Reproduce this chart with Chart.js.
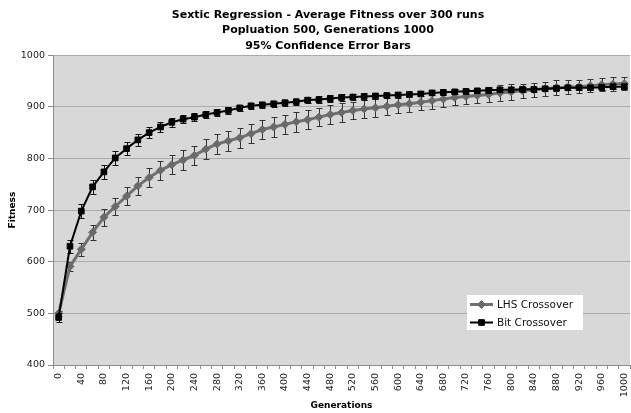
<!DOCTYPE html>
<html>
<head>
<meta charset="utf-8">
<script src="https://cdn.jsdelivr.net/npm/chart.js@4.4.0/dist/chart.umd.min.js"></script>
<style>
  body { margin: 0; background: #fff; }
  canvas { display: block; }
</style>
</head>
<body>
<canvas id="fitnessChart" width="631" height="413"></canvas>
<script>
// data
const generations = [0, 20, 40, 60, 80, 100, 120, 140, 160, 180, 200, 220, 240, 260, 280, 300, 320, 340, 360, 380,
    400, 420, 440, 460, 480, 500, 520, 540, 560, 580, 600, 620, 640, 660, 680, 700, 720, 740, 760, 780,
    800, 820, 840, 860, 880, 900, 920, 940, 960, 980, 1000];

const lhs_fitness = [500, 591, 624, 657, 686, 707, 727, 747, 763, 777, 788, 797, 806, 818, 828, 834, 840, 848, 856, 861,
    866, 871, 875, 880, 885, 889, 893, 896, 898, 901, 904, 906, 909, 912, 915, 918, 920, 922, 924, 927,
    929, 931, 933, 935, 937, 938, 939, 941, 943, 944, 945];
const lhs_error = [5, 9, 12, 15, 16, 17, 18, 18, 19, 19, 19, 19, 19, 19, 19, 19, 19, 19, 19, 19,
    19, 19, 18, 18, 18, 18, 17, 17, 17, 17, 16, 16, 16, 16, 15, 15, 15, 15, 15, 15,
    15, 14, 14, 14, 14, 14, 13, 13, 13, 13, 13];

const bit_fitness = [492, 630, 698, 745, 774, 801, 819, 836, 850, 861, 870, 876, 880, 885, 889, 893, 898, 902, 904, 906,
    908, 910, 913, 914, 916, 918, 919, 920, 921, 922, 923, 924, 925, 927, 928, 929, 930, 931, 932, 933,
    933, 934, 934, 935, 936, 937, 937, 937, 938, 939, 939];
const bit_error = [8, 13, 14, 14, 13, 13, 12, 12, 11, 10, 9, 8, 8, 7, 7, 6, 6, 6, 6, 6,
    6, 6, 6, 6, 6, 6, 6, 6, 5, 5, 5, 5, 5, 5, 5, 5, 5, 5, 5, 5,
    5, 5, 5, 5, 5, 5, 5, 5, 5, 5, 5];

const FONT = 'DejaVu Sans';

// gray plot area like the spreadsheet
const plotBg = {
    id: 'plotBg',
    afterLayout(chart) {
        // the original title sits a little right of the canvas centre
        if (chart.titleBlock) chart.titleBlock.left = 26;
    },
    beforeDraw(chart) {
        const {ctx, chartArea: a} = chart;
        ctx.save();
        ctx.fillStyle = '#d8d8d8';
        ctx.fillRect(a.left, a.top, a.right - a.left, a.bottom - a.top);
        ctx.restore();
    }
};

// 95% error bars, drawn just under each dataset's own line
const errorBars = {
    id: 'errorBars',
    beforeDatasetDraw(chart, args) {
        const ds = chart.data.datasets[args.index];
        if (!ds.errors) return;
        const ctx = chart.ctx;
        const yScale = chart.scales.y;
        ctx.save();
        ctx.strokeStyle = ds.errorColor;
        ctx.lineWidth = 1;
        args.meta.data.forEach((pt, i) => {
            const v = ds.data[i];
            const top = Math.round(yScale.getPixelForValue(v + ds.errors[i])) + 0.5;
            const bot = Math.round(yScale.getPixelForValue(v - ds.errors[i])) + 0.5;
            const x = Math.round(pt.x) + 0.5;
            ctx.beginPath();
            ctx.moveTo(x, top); ctx.lineTo(x, bot);
            ctx.moveTo(x - 3, top); ctx.lineTo(x + 3, top);
            ctx.moveTo(x - 3, bot); ctx.lineTo(x + 3, bot);
            ctx.stroke();
        });
        ctx.restore();
    }
};

// legend box inside the plot, bottom right
const legendBox = {
    id: 'legendBox',
    afterDraw(chart) {
        const ctx = chart.ctx;
        const a = chart.chartArea;
        const x0 = a.right - 163;
        const y0 = a.bottom - 70;
        ctx.save();
        ctx.fillStyle = '#ffffff';
        ctx.fillRect(x0, y0, 116, 35);
        chart.data.datasets.forEach((ds, i) => {
            const cy = y0 + 9.5 + i * 18;
            ctx.strokeStyle = ds.borderColor;
            ctx.lineWidth = ds.borderWidth;
            ctx.beginPath();
            ctx.moveTo(x0 + 3, cy);
            ctx.lineTo(x0 + 26, cy);
            ctx.stroke();
            ctx.fillStyle = ds.pointBackgroundColor;
            ctx.strokeStyle = ds.pointBorderColor;
            ctx.lineWidth = 1;
            Chart.helpers.drawPoint(ctx, {pointStyle: ds.pointStyle, radius: ds.pointRadius, rotation: 0, borderWidth: 1}, x0 + 14.5, cy);
            ctx.fillStyle = '#111';
            ctx.font = '10.5px "' + FONT + '"';
            ctx.textBaseline = 'middle';
            ctx.textAlign = 'left';
            ctx.fillText(ds.label, x0 + 30, cy + 0.5);
        });
        ctx.restore();
    }
};

const ctxFit = document.getElementById('fitnessChart').getContext('2d');
const fitnessChart = new Chart(ctxFit, {
    type: 'line',
    data: {
        labels: generations,
        datasets: [
            {
                label: 'LHS Crossover',
                data: lhs_fitness,
                errors: lhs_error,
                errorColor: '#333',
                borderColor: '#707070',
                borderWidth: 3,
                pointStyle: 'rectRot',
                pointRadius: 4,
                pointBorderWidth: 1,
                pointBackgroundColor: '#6a6a6a',
                pointBorderColor: '#6a6a6a',
                tension: 0,
                order: 2
            },
            {
                label: 'Bit Crossover',
                data: bit_fitness,
                errors: bit_error,
                errorColor: '#111',
                borderColor: '#000',
                borderWidth: 2,
                pointStyle: 'rect',
                pointRadius: 4,
                pointBorderWidth: 1,
                pointBackgroundColor: '#000',
                pointBorderColor: '#000',
                tension: 0,
                order: 1
            }
        ]
    },
    options: {
        responsive: false,
        animation: false,
        layout: {
            autoPadding: false,
            padding: {left: 0, right: 1, top: 0, bottom: 0}
        },
        plugins: {
            legend: {display: false},
            tooltip: {enabled: false},
            title: {
                display: true,
                text: ['Sextic Regression - Average Fitness over 300 runs',
                       'Popluation 500, Generations 1000',
                       '95% Confidence Error Bars'],
                color: '#000',
                font: {family: FONT, size: 11, weight: 'bold', lineHeight: 1.43},
                padding: {top: 7, bottom: 1}
            }
        },
        scales: {
            x: {
                type: 'category',
                offset: true,
                grid: {
                    offset: true,
                    drawOnChartArea: false,
                    drawTicks: true,
                    tickLength: 4,
                    color: '#8c8c8c'
                },
                border: {color: '#8c8c8c'},
                ticks: {
                    autoSkip: false,
                    minRotation: 90,
                    maxRotation: 90,
                    padding: 4,
                    color: '#222',
                    font: {family: FONT, size: 9.5},
                    callback: function(val, idx) {
                        return idx % 2 === 0 ? this.getLabelForValue(val) : '';
                    }
                },
                title: {
                    display: true,
                    text: 'Generations',
                    color: '#000',
                    font: {family: FONT, size: 9, weight: 'bold'},
                    padding: {top: 0, bottom: 2}
                },
                afterFit: function(scale) {
                    scale.height = 48;
                    scale.paddingLeft = 0;
                    scale.paddingRight = 0;
                }
            },
            y: {
                min: 400,
                max: 1000,
                grid: {
                    color: '#ababab',
                    tickColor: '#8c8c8c',
                    tickLength: 5
                },
                border: {color: '#8c8c8c'},
                ticks: {
                    stepSize: 100,
                    padding: 3,
                    color: '#222',
                    font: {family: FONT, size: 9.5},
                    callback: function(val) { return String(val); }
                },
                title: {
                    display: true,
                    text: 'Fitness',
                    color: '#000',
                    font: {family: FONT, size: 9, weight: 'bold'},
                    padding: {top: 7, bottom: 0}
                },
                afterFit: function(scale) { scale.width = 53; }
            }
        }
    },
    plugins: [plotBg, errorBars, legendBox]
});
</script>
</body>
</html>
